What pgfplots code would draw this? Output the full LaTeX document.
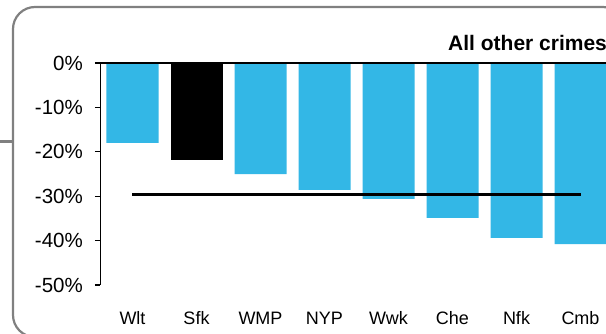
\documentclass[border=0pt]{standalone}
\usepackage{fontspec}
\setmainfont{Liberation Sans}
\usepackage{pgfplots}
\pgfplotsset{compat=1.18}
\definecolor{barblue}{HTML}{33B7E6}
\definecolor{framegrey}{HTML}{808080}
\begin{document}
\begin{tikzpicture}[x=1pt,y=1pt]
\path[use as bounding box, clip] (0,0) rectangle (606,-334);
\fill[white] (0,0) rectangle (606,-334);
\draw[framegrey, line width=2.2pt, rounded corners=22pt] (13,-7) rectangle (625,-337);
\draw[framegrey, line width=3pt] (0,-142) -- (13,-142);
\begin{axis}[
  at={(100.5pt,-285pt)}, anchor=south west,
  scale only axis, width=512pt, height=222pt,
  xmin=-0.5, xmax=7.5, ymin=-50, ymax=0,
  axis y line*=left, axis x line*=bottom,
  x axis line style={draw=none},
  y axis line style={line width=1.2pt},
  xtick={0,...,7},
  xticklabels={Wlt,Sfk,WMP,NYP,Wwk,Che,Nfk,Cmb},
  xtick style={draw=none},
  ytick={-50,-40,-30,-20,-10,0},
  yticklabel={\pgfmathprintnumber{\tick}\%},
  /pgf/number format/assume math mode=true,
  ytick style={black, line width=1.2pt},
  tick align=outside, major tick length=5.5pt,
  yticklabel style={font=\fontsize{20.5}{24}\selectfont, anchor=east, inner sep=0pt, xshift=-12pt},
  xticklabel style={font=\fontsize{18}{21}\selectfont, anchor=north, inner sep=0pt, yshift=-21pt},
  clip=false,
]
\addplot[ybar, bar width=52pt, bar shift=0pt, fill=barblue, draw=none]
  coordinates {(0,-18.0) (2,-25.0) (3,-28.6) (4,-30.6) (5,-34.9) (6,-39.4) (7,-40.8)};
\addplot[ybar, bar width=52pt, bar shift=0pt, fill=black, draw=none]
  coordinates {(1,-21.8)};
\addplot[black, line width=3.2pt, no marks]
  coordinates {(0,-29.7) (1,-29.7) (2,-29.7) (3,-29.7) (4,-29.7) (5,-29.7) (6,-29.7) (7,-29.7)};
\draw[black, line width=1.2pt] (axis cs:-0.5,0) -- (axis cs:7.5,0);
\end{axis}
\node[anchor=base west, inner sep=0pt, font=\bfseries\fontsize{21}{24}\selectfont] at (448,-51) {All other crimes};
\end{tikzpicture}
\end{document}
